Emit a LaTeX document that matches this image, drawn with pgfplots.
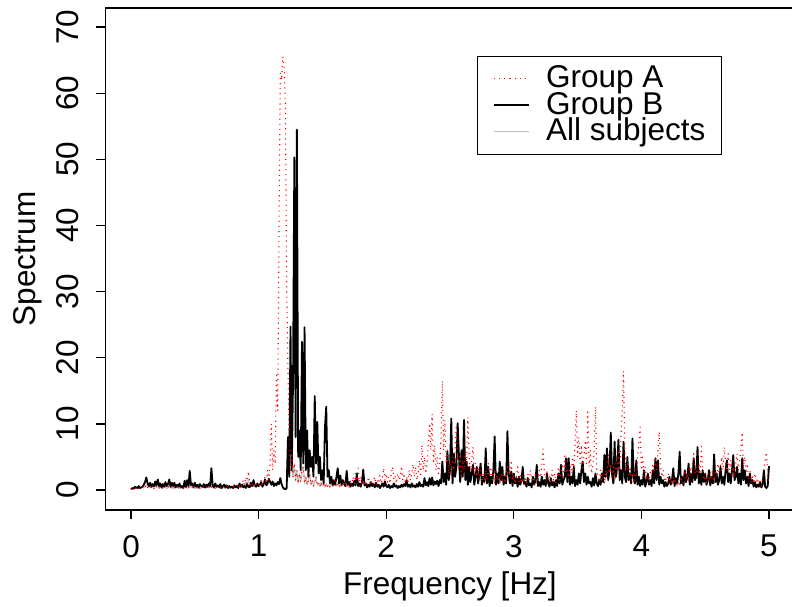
\documentclass[border=0pt]{standalone}
\usepackage{fontspec}
\setmainfont{Liberation Sans}
\usepackage{pgfplots}
\usepackage{pgfplotstable}
\pgfplotsset{compat=1.18}
\definecolor{rgray}{HTML}{BEBEBE}
\pgfplotstableread{
f A B C
0.00 0.1 0.1 0.1
0.01 0.2 0.3 0.2
0.02 0.4 0.2 0.2
0.03 0.2 0.5 0.2
0.04 0.3 0.4 0.3
0.05 0.5 0.3 0.3
0.06 0.2 0.6 0.2
0.07 0.4 0.3 0.3
0.08 0.3 0.4 0.3
0.09 0.6 0.5 0.5
0.10 0.3 0.8 0.3
0.11 0.5 1.2 0.5
0.12 0.8 1.9 0.8
0.13 0.4 1.0 0.4
0.14 0.3 0.6 0.3
0.15 0.6 1.1 0.6
0.16 0.3 0.5 0.3
0.17 0.5 0.9 0.5
0.18 0.2 0.6 0.2
0.19 0.7 1.3 0.7
0.20 0.4 0.7 0.4
0.21 0.6 1.6 0.6
0.22 0.3 0.6 0.3
0.23 0.5 1.0 0.5
0.24 0.2 0.4 0.2
0.25 0.4 0.9 0.4
0.26 0.3 0.5 0.3
0.27 0.6 1.2 0.6
0.28 0.2 0.6 0.2
0.29 0.4 0.9 0.4
0.30 0.7 1.6 0.7
0.31 0.3 0.5 0.3
0.32 0.5 1.1 0.5
0.33 0.2 0.6 0.2
0.34 0.4 1.1 0.4
0.35 0.3 0.4 0.3
0.36 0.6 0.8 0.6
0.37 0.2 0.5 0.2
0.38 0.4 1.0 0.4
0.39 0.3 0.4 0.3
0.40 0.5 0.6 0.5
0.41 0.2 0.3 0.2
0.42 0.6 1.4 0.6
0.43 0.3 0.5 0.3
0.44 0.5 1.5 0.5
0.45 0.2 0.6 0.2
0.46 0.9 2.9 0.9
0.47 0.4 0.7 0.4
0.48 0.3 1.0 0.3
0.49 0.5 0.4 0.4
0.50 0.2 1.1 0.2
0.51 0.4 0.5 0.4
0.52 0.3 0.8 0.3
0.53 0.6 0.4 0.4
0.54 0.2 0.9 0.2
0.55 0.4 0.6 0.4
0.56 0.3 0.5 0.3
0.57 0.5 0.9 0.5
0.58 0.2 0.4 0.2
0.59 0.4 0.8 0.4
0.60 0.6 0.5 0.5
0.61 0.3 1.0 0.3
0.62 0.8 0.6 0.6
0.63 0.4 3.3 0.4
0.64 0.3 0.7 0.3
0.65 0.5 0.4 0.4
0.66 0.2 1.0 0.2
0.67 0.4 0.5 0.4
0.68 0.3 0.7 0.3
0.69 0.6 0.4 0.4
0.70 0.2 0.9 0.2
0.71 0.5 0.3 0.3
0.72 0.3 0.6 0.3
0.73 0.4 0.8 0.4
0.74 0.2 0.4 0.2
0.75 0.6 0.7 0.6
0.76 0.3 0.3 0.3
0.77 0.5 0.6 0.5
0.78 0.2 0.4 0.2
0.79 0.4 0.5 0.4
0.80 0.6 0.3 0.3
0.81 0.3 0.7 0.3
0.82 0.5 0.4 0.4
0.83 0.8 0.6 0.6
0.84 0.4 0.3 0.3
0.85 0.6 1.0 0.6
0.86 0.3 0.5 0.3
0.87 1.0 0.8 0.8
0.88 1.5 0.4 1.0
0.89 0.8 0.6 0.6
0.90 2.0 0.3 1.2
0.91 1.0 0.9 0.9
0.92 2.8 0.5 1.6
0.93 1.2 0.4 0.6
0.94 0.6 1.1 0.6
0.95 1.0 0.6 0.6
0.96 0.5 1.5 0.5
0.97 0.8 0.7 0.7
0.98 1.2 0.5 0.5
0.99 0.6 1.0 0.6
1.00 0.5 0.6 0.5
1.01 0.8 0.8 0.8
1.02 1.5 1.2 1.2
1.03 0.6 0.5 0.5
1.04 1.2 0.9 0.9
1.05 2.0 1.6 1.6
1.06 1.0 0.7 0.7
1.07 3.0 1.0 1.2
1.08 1.5 1.7 1.5
1.09 4.0 1.2 1.4
1.10 10.0 0.8 1.0
1.11 3.0 1.3 1.3
1.12 6.0 0.6 0.8
1.13 4.0 1.0 1.0
1.14 17.7 0.7 0.9
1.15 12.0 1.2 1.2
1.16 40.0 0.9 1.1
1.17 63.0 1.8 1.8
1.18 62.0 0.9 1.0
1.19 65.5 0.4 0.6
1.20 64.0 0.2 0.4
1.21 58.0 0.1 0.3
1.22 31.0 0.3 0.5
1.23 18.0 8.0 7.5
1.24 8.0 2.0 2.0
1.25 3.0 24.7 3.0
1.26 6.0 3.0 3.0
1.27 2.0 16.6 2.0
1.28 4.0 50.3 4.0
1.29 1.5 8.0 1.5
1.30 3.0 54.5 3.0
1.31 1.0 5.0 1.0
1.32 2.5 9.0 2.5
1.33 1.2 3.0 1.2
1.34 3.0 22.4 3.0
1.35 3.5 4.0 3.5
1.36 1.0 24.6 1.0
1.37 2.0 3.0 2.0
1.38 0.8 9.0 0.8
1.39 1.5 2.0 1.5
1.40 2.5 6.0 2.5
1.41 0.8 3.5 0.8
1.42 1.5 5.0 1.5
1.43 0.6 2.0 0.6
1.44 1.2 14.2 1.2
1.45 2.0 4.0 2.0
1.46 0.7 10.3 0.7
1.47 1.0 2.5 1.0
1.48 0.5 5.0 0.5
1.49 1.2 1.5 1.2
1.50 0.6 3.0 0.6
1.51 0.9 1.0 0.9
1.52 0.4 9.5 0.4
1.53 1.0 12.6 1.0
1.54 0.5 2.0 0.5
1.55 0.8 3.0 0.8
1.56 0.4 1.0 0.4
1.57 1.0 2.0 1.0
1.58 0.5 0.8 0.5
1.59 0.8 1.5 0.8
1.60 1.5 0.8 0.8
1.61 0.6 2.0 0.6
1.62 1.0 3.3 1.0
1.63 0.4 1.0 0.4
1.64 0.8 2.2 0.8
1.65 0.5 0.8 0.5
1.66 1.2 1.5 1.2
1.67 0.6 1.0 0.6
1.68 1.0 0.6 0.6
1.69 0.5 2.9 0.5
1.70 0.8 0.8 0.8
1.71 0.4 1.2 0.4
1.72 1.5 0.5 0.5
1.73 0.8 1.0 0.8
1.74 2.0 0.6 0.6
1.75 1.0 1.4 1.0
1.76 2.5 0.7 0.7
1.77 1.0 2.5 1.0
1.78 3.3 0.6 0.6
1.79 1.2 1.0 1.0
1.80 2.0 0.5 0.5
1.81 0.8 1.2 0.8
1.82 1.5 3.1 1.5
1.83 0.6 0.7 0.6
1.84 1.2 1.0 1.0
1.85 0.8 0.4 0.4
1.86 2.0 0.8 0.8
1.87 1.0 0.5 0.5
1.88 1.5 1.2 1.2
1.89 0.7 0.6 0.6
1.90 1.2 0.9 0.9
1.91 2.0 0.4 0.4
1.92 0.8 1.1 0.8
1.93 1.5 0.5 0.5
1.94 1.0 0.8 0.8
1.95 2.2 0.3 0.3
1.96 1.0 0.6 0.6
1.97 1.8 1.0 1.0
1.98 3.3 0.5 0.5
1.99 1.5 1.3 1.3
2.00 2.5 0.6 0.6
2.01 1.2 0.4 0.4
2.02 2.0 0.8 0.8
2.03 1.0 0.3 0.3
2.04 2.5 0.6 0.6
2.05 3.5 0.4 0.4
2.06 1.5 1.0 1.0
2.07 2.0 0.5 0.5
2.08 1.0 0.7 0.7
2.09 2.5 0.3 0.3
2.10 1.5 0.6 0.6
2.11 2.0 0.4 0.4
2.12 3.6 0.8 0.8
2.13 1.5 0.5 0.5
2.14 2.5 0.9 0.9
2.15 1.0 0.6 0.6
2.16 2.0 1.5 1.5
2.17 1.2 0.5 0.5
2.18 3.0 0.8 0.8
2.19 1.5 0.4 0.4
2.20 2.5 1.0 1.0
2.21 3.9 0.5 0.5
2.22 2.0 0.7 0.7
2.23 3.5 0.4 0.4
2.24 1.5 0.9 0.9
2.25 2.5 0.5 0.5
2.26 4.5 1.2 1.2
2.27 2.0 0.6 0.6
2.28 6.8 0.8 0.8
2.29 3.0 0.5 0.5
2.30 5.0 1.8 1.8
2.31 2.5 0.7 0.7
2.32 4.0 1.2 1.2
2.33 7.0 0.6 0.6
2.34 10.1 1.8 1.8
2.35 6.0 0.8 0.8
2.36 11.5 1.9 1.9
2.37 4.0 0.7 0.7
2.38 6.8 1.3 1.3
2.39 3.0 0.9 0.9
2.40 5.0 1.4 1.4
2.41 2.5 0.6 0.6
2.42 4.0 1.5 1.5
2.43 8.0 1.0 1.0
2.44 16.5 4.3 4.3
2.45 6.0 1.2 1.2
2.46 10.6 2.5 2.5
2.47 4.0 0.8 0.8
2.48 6.0 5.8 5.8
2.49 2.0 1.5 1.5
2.50 4.0 3.0 3.0
2.51 2.5 10.8 2.5
2.52 5.0 1.0 1.0
2.53 3.0 5.5 3.0
2.54 6.0 2.0 2.0
2.55 9.8 3.5 3.5
2.56 4.0 10.1 4.0
2.57 3.0 5.3 3.0
2.58 5.5 1.2 1.2
2.59 2.0 6.0 2.0
2.60 4.5 2.0 2.0
2.61 3.0 10.6 3.0
2.62 6.0 1.5 1.5
2.63 4.0 4.3 4.0
2.64 11.0 0.8 0.8
2.65 5.0 3.5 3.5
2.66 3.0 1.2 1.2
2.67 4.5 2.5 2.5
2.68 6.5 3.8 3.8
2.69 2.5 0.8 0.8
2.70 4.0 2.0 2.0
2.71 2.0 3.5 2.0
2.72 3.5 1.0 1.0
2.73 1.5 2.5 1.5
2.74 3.0 4.0 3.0
2.75 1.2 0.8 0.8
2.76 2.5 2.0 2.0
2.77 1.0 1.2 1.0
2.78 3.0 6.3 3.0
2.79 1.5 1.0 1.0
2.80 4.0 3.5 3.5
2.81 2.0 0.6 0.6
2.82 3.5 2.0 2.0
2.83 1.2 1.0 1.0
2.84 2.5 3.0 2.5
2.85 1.0 8.1 1.0
2.86 3.0 0.8 0.8
2.87 1.5 2.5 1.5
2.88 2.0 1.0 1.0
2.89 1.0 4.3 1.0
2.90 2.5 1.5 1.5
2.91 1.5 3.5 1.5
2.92 3.0 0.8 0.8
2.93 1.0 2.0 1.0
2.94 2.0 1.0 1.0
2.95 3.5 8.9 3.5
2.96 1.5 2.5 1.5
2.97 2.5 1.0 1.0
2.98 4.5 2.8 2.8
2.99 1.5 0.6 0.6
3.00 2.5 2.5 2.5
3.01 1.0 1.0 1.0
3.02 2.0 1.8 1.8
3.03 3.5 0.5 0.5
3.04 1.2 2.0 1.2
3.05 2.5 0.8 0.8
3.06 1.0 1.5 1.0
3.07 1.8 3.5 1.8
3.08 0.8 1.0 0.8
3.09 2.0 1.2 1.2
3.10 1.0 0.5 0.5
3.11 2.5 1.8 1.8
3.12 1.2 0.7 0.7
3.13 3.0 1.0 1.0
3.14 1.5 0.4 0.4
3.15 2.0 2.0 2.0
3.16 0.8 0.8 0.8
3.17 2.5 1.5 1.5
3.18 1.0 3.8 1.0
3.19 1.8 0.6 0.6
3.20 3.0 1.2 1.2
3.21 1.5 0.5 0.5
3.22 4.0 2.0 2.0
3.23 6.2 0.8 0.8
3.24 2.5 1.5 1.5
3.25 1.0 0.6 0.6
3.26 3.0 2.5 2.5
3.27 1.5 1.0 1.0
3.28 2.0 0.5 0.5
3.29 1.0 1.8 1.0
3.30 3.0 0.7 0.7
3.31 1.5 1.2 1.2
3.32 2.5 0.4 0.4
3.33 1.0 1.5 1.0
3.34 2.0 0.6 0.6
3.35 3.5 2.5 2.5
3.36 1.5 1.0 1.0
3.37 2.5 3.8 2.5
3.38 4.0 0.8 0.8
3.39 2.0 1.5 1.5
3.40 5.5 2.0 2.0
3.41 2.5 4.8 2.5
3.42 3.0 1.2 1.2
3.43 1.5 4.8 1.5
3.44 4.0 0.8 0.8
3.45 2.5 2.0 2.0
3.46 5.0 1.0 1.0
3.47 3.0 3.5 3.0
3.48 7.0 0.6 0.6
3.49 12.0 1.5 1.5
3.50 5.0 0.8 0.8
3.51 8.0 2.5 2.5
3.52 4.0 1.0 1.0
3.53 6.8 3.0 3.0
3.54 3.0 4.3 3.0
3.55 5.0 1.2 1.2
3.56 7.5 2.5 2.5
3.57 4.0 0.8 0.8
3.58 11.8 2.0 2.0
3.59 3.5 1.0 1.0
3.60 6.0 1.2 1.2
3.61 2.5 0.5 0.5
3.62 4.0 1.8 1.8
3.63 6.0 0.7 0.7
3.64 12.6 2.5 2.5
3.65 3.0 1.0 1.0
3.66 2.0 0.6 0.6
3.67 1.2 1.5 1.2
3.68 3.0 0.8 0.8
3.69 1.5 2.5 1.5
3.70 2.5 1.2 1.2
3.71 1.0 5.3 1.0
3.72 3.0 2.0 2.0
3.73 2.0 6.3 2.0
3.74 5.5 1.5 1.5
3.75 2.5 3.0 2.5
3.76 4.0 8.7 4.0
3.77 2.0 2.5 2.0
3.78 3.5 1.0 1.0
3.79 1.5 7.3 1.5
3.80 4.0 2.0 2.0
3.81 2.5 3.5 2.5
3.82 6.0 7.6 6.0
3.83 3.0 1.5 1.5
3.84 8.0 3.0 3.0
3.85 12.0 1.0 1.0
3.86 18.0 7.3 7.3
3.87 6.0 2.0 2.0
3.88 3.0 1.2 1.2
3.89 4.5 5.0 4.5
3.90 2.0 1.5 1.5
3.91 3.5 2.5 2.5
3.92 1.5 1.0 1.0
3.93 2.5 7.8 2.5
3.94 1.0 2.0 1.0
3.95 3.0 1.0 1.0
3.96 2.0 4.5 2.0
3.97 5.0 0.8 0.8
3.98 7.0 2.0 2.0
3.99 9.5 0.6 0.6
4.00 3.0 1.5 1.5
4.01 5.0 0.8 0.8
4.02 2.0 3.0 2.0
4.03 3.5 0.5 0.5
4.04 1.5 1.2 1.2
4.05 2.5 2.5 2.5
4.06 1.0 0.8 0.8
4.07 3.0 1.5 1.5
4.08 2.0 0.6 0.6
4.09 4.0 3.0 3.0
4.10 2.5 1.0 1.0
4.11 5.0 4.8 4.8
4.12 3.0 1.5 1.5
4.13 6.0 4.5 4.5
4.14 8.8 0.8 0.8
4.15 4.0 2.0 2.0
4.16 2.0 1.0 1.0
4.17 3.0 1.5 1.5
4.18 1.5 0.5 0.5
4.19 2.0 1.2 1.2
4.20 1.0 0.6 0.6
4.21 2.5 1.0 1.0
4.22 1.2 2.0 1.2
4.23 1.8 0.8 0.8
4.24 0.8 1.5 0.8
4.25 2.0 3.3 2.0
4.26 1.0 0.6 0.6
4.27 1.5 1.8 1.5
4.28 0.6 1.0 0.6
4.29 1.2 2.5 1.2
4.30 0.8 5.8 0.8
4.31 2.0 1.0 1.0
4.32 1.0 2.0 1.0
4.33 1.5 0.7 0.7
4.34 3.0 3.0 3.0
4.35 1.5 1.2 1.2
4.36 2.5 2.0 2.0
4.37 1.2 4.0 1.2
4.38 3.5 0.8 0.8
4.39 2.0 2.5 2.0
4.40 4.0 1.2 1.2
4.41 5.5 4.8 4.8
4.42 2.5 1.5 1.5
4.43 3.5 2.0 2.0
4.44 2.0 6.5 2.0
4.45 4.0 1.0 1.0
4.46 2.5 2.5 2.5
4.47 6.6 0.8 0.8
4.48 3.0 3.0 3.0
4.49 1.5 1.2 1.2
4.50 2.5 2.5 2.5
4.51 1.0 0.8 0.8
4.52 2.0 1.5 1.5
4.53 1.2 3.0 1.2
4.54 3.0 0.7 0.7
4.55 1.5 2.0 1.5
4.56 2.5 1.0 1.0
4.57 1.0 5.4 1.0
4.58 3.0 1.2 1.2
4.59 2.0 2.5 2.0
4.60 4.0 0.8 0.8
4.61 2.5 1.5 1.5
4.62 3.5 3.5 3.5
4.63 5.0 1.0 1.0
4.64 3.0 2.0 2.0
4.65 6.5 0.8 0.8
4.66 4.0 3.0 3.0
4.67 2.5 4.5 2.5
4.68 5.5 1.2 1.2
4.69 3.0 2.5 2.5
4.70 4.5 1.0 1.0
4.71 2.0 3.0 2.0
4.72 3.5 5.3 3.5
4.73 2.0 1.5 1.5
4.74 4.0 2.0 2.0
4.75 5.5 3.5 3.5
4.76 3.0 1.0 1.0
4.77 4.5 2.5 2.5
4.78 6.0 0.8 0.8
4.79 8.7 4.8 4.8
4.80 3.5 1.5 1.5
4.81 5.0 3.0 3.0
4.82 2.5 1.0 1.0
4.83 4.0 2.0 2.0
4.84 1.5 0.6 0.6
4.85 3.0 2.5 2.5
4.86 1.2 1.0 1.0
4.87 2.0 1.5 1.5
4.88 1.0 0.5 0.5
4.89 2.5 1.2 1.2
4.90 1.0 0.4 0.4
4.91 1.8 0.8 0.8
4.92 0.8 0.5 0.5
4.93 1.5 1.2 1.2
4.94 0.6 0.4 0.4
4.95 2.0 0.8 0.8
4.96 3.0 3.0 3.0
4.97 4.5 0.5 0.5
4.98 5.7 0.3 0.3
4.99 2.0 0.6 0.6
5.00 1.0 3.6 1.0
}\spec
\begin{document}
\begin{tikzpicture}
\begin{axis}[
  at={(0,0)}, anchor=south west,
  scale only axis, width=689pt, height=502pt,
  xmin=-0.2, xmax=5.2, ymin=-3.02, ymax=72.88,
  axis line style={line width=1.3pt},
  xtick={0,1,2,3,4,5}, ytick={0,10,...,70},
  tick align=outside, tick pos=left,
  major tick length=9pt,
  tick style={line width=1.3pt, black},
  /pgf/number format/assume math mode=true,
  ticklabel style={font=\fontsize{31.5}{31.5}\selectfont},
  xticklabel style={inner sep=0pt, anchor=north},
  xticklabel shift=16pt,
  yticklabel style={rotate=90, anchor=south, inner sep=0pt},
  yticklabel shift=17pt,
  xlabel={Frequency [Hz]},
  ylabel={Spectrum},
  label style={font=\fontsize{31.5}{31.5}\selectfont, inner sep=0pt},
  xlabel style={at={(axis description cs:0.5,-0.1693)}, anchor=base},
  ylabel style={at={(axis description cs:-0.1023,0.5)}, anchor=base},
  legend style={at={(axis cs:2.71,65.6)}, anchor=north west, draw=black, line width=1pt, fill=white,
    font=\fontsize{31.5}{31.5}\selectfont, inner xsep=16pt, inner ysep=9pt, row sep=0pt, column sep=16pt,
    nodes={inner sep=0pt, text height=22pt, text depth=4.5pt}},
  legend cell align=left,
  legend image code/.code={\draw[#1] (0pt,0pt) -- (35pt,0pt);},
]
\addplot[forget plot, rgray, line width=1pt, line join=round] table[x=f,y=C]{\spec};
\addplot[forget plot, black, line width=1.8pt, line join=round] table[x=f,y=B]{\spec};
\addplot[forget plot, red, line width=1.1pt, line join=round, dash pattern=on 1.1pt off 4pt] table[x=f,y=A]{\spec};
\addlegendimage{red, line width=1.1pt, dash pattern=on 1.1pt off 4pt}
\addlegendentry{Group A}
\addlegendimage{black, line width=1.8pt}
\addlegendentry{Group B}
\addlegendimage{rgray, line width=1pt}
\addlegendentry{All subjects}
\end{axis}
\pgfresetboundingbox
\path[use as bounding box] (-105.5pt,-97pt) rectangle (686.5pt,510pt);
\end{tikzpicture}
\end{document}
